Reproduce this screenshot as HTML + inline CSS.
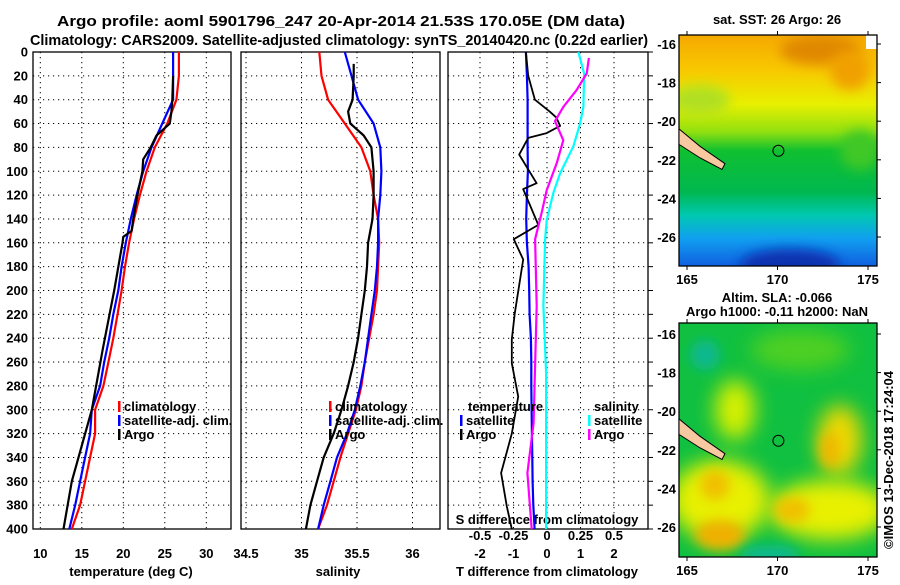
<!DOCTYPE html>
<html><head><meta charset="utf-8"><style>
body{margin:0;background:#fff;width:900px;height:580px;overflow:hidden}
svg text{font-family:"Liberation Sans",sans-serif;font-weight:bold}
</style></head><body>
<svg id="fig" width="900" height="580" xmlns="http://www.w3.org/2000/svg">
<defs>
<linearGradient id="sstg" x1="0" y1="0" x2="0" y2="1">
<stop offset="0" stop-color="#f5a800"/><stop offset="0.15" stop-color="#f8c800"/><stop offset="0.3" stop-color="#e8f000"/>
<stop offset="0.42" stop-color="#90e010"/><stop offset="0.5" stop-color="#10c030"/><stop offset="0.68" stop-color="#00b850"/>
<stop offset="0.78" stop-color="#00c8b0"/><stop offset="0.88" stop-color="#10a0f0"/><stop offset="1" stop-color="#1060e0"/>
</linearGradient>
<filter id="blur6" x="-100%" y="-100%" width="300%" height="300%"><feGaussianBlur stdDeviation="6"/></filter>
<filter id="blur10" x="-100%" y="-100%" width="300%" height="300%"><feGaussianBlur stdDeviation="10"/></filter>
<clipPath id="c1"><rect x="679" y="35" width="198" height="231"/></clipPath>
<clipPath id="c2"><rect x="679" y="323" width="198" height="234"/></clipPath>
</defs>
<text x="57" y="26" font-size="15" textLength="568" lengthAdjust="spacingAndGlyphs">Argo profile: aoml 5901796_247 20-Apr-2014 21.53S 170.05E (DM data)</text>
<text x="30" y="45" font-size="15" textLength="618" lengthAdjust="spacingAndGlyphs">Climatology: CARS2009. Satellite-adjusted climatology: synTS_20140420.nc (0.22d earlier)</text>
<g id="maps">
<g clip-path="url(#c1)">
<rect x="679" y="35" width="198" height="231" fill="url(#sstg)"/>
<ellipse cx="820" cy="50" rx="40" ry="15" fill="#e08800" filter="url(#blur6)"/>
<ellipse cx="700" cy="100" rx="30" ry="15" fill="#b0e020" filter="url(#blur6)"/>
<ellipse cx="850" cy="70" rx="20" ry="20" fill="#f0a000" filter="url(#blur6)"/>
<ellipse cx="790" cy="265" rx="50" ry="16" fill="#0830b0" filter="url(#blur6)"/>
<ellipse cx="860" cy="150" rx="20" ry="20" fill="#40c828" filter="url(#blur6)"/>
<rect x="866" y="35" width="13" height="14" fill="#fff"/>
</g>
<g clip-path="url(#c2)">
<rect x="679" y="323" width="198" height="234" fill="#10c040"/>
<ellipse cx="800" cy="350" rx="50" ry="20" fill="#50d020" filter="url(#blur10)"/>
<ellipse cx="705" cy="355" rx="15" ry="15" fill="#10b890" filter="url(#blur6)"/>
<ellipse cx="735" cy="410" rx="20" ry="30" fill="#d8f000" filter="url(#blur10)"/>
<ellipse cx="840" cy="440" rx="22" ry="35" fill="#f0d800" filter="url(#blur10)"/>
<ellipse cx="720" cy="500" rx="50" ry="40" fill="#e8f000" filter="url(#blur10)"/>
<ellipse cx="830" cy="510" rx="60" ry="30" fill="#e8f000" filter="url(#blur10)"/>
<ellipse cx="715" cy="485" rx="15" ry="15" fill="#f0c000" filter="url(#blur6)"/>
<ellipse cx="720" cy="535" rx="25" ry="15" fill="#f0b000" filter="url(#blur6)"/>
<ellipse cx="792" cy="510" rx="18" ry="13" fill="#f0c000" filter="url(#blur6)"/>
<ellipse cx="830" cy="450" rx="10" ry="18" fill="#f0b800" filter="url(#blur6)"/>
<ellipse cx="770" cy="555" rx="30" ry="10" fill="#10b890" filter="url(#blur6)"/>
</g>
</g>
<g id="plots"></g>
</svg>
<script>
const NS="http://www.w3.org/2000/svg";
// ---- data ----
const tDepth=[0,20,40,60,80,100,120,140,160,180,200,220,240,260,280,300,320,340,360,380,400];
const tempClim=[26.7,26.7,26.4,25.3,23.8,22.8,22.0,21.3,20.7,20.2,19.8,19.3,18.8,18.2,17.6,16.6,16.6,16.0,15.4,14.8,13.8];
const tempSat=[26.0,26.0,26.0,24.7,23.4,22.4,21.6,20.9,20.3,19.8,19.4,18.8,18.3,17.7,17.2,16.2,16.0,15.4,14.8,14.2,13.5];
const argoTDepth=[20,40,50,60,70,80,90,100,120,140,150,155,160,200,250,300,340,360,400];
const tempArgo=[26.0,25.9,25.8,25.6,24.0,23.3,22.4,22.3,21.7,21.2,21.0,20.0,19.9,18.9,17.5,16.2,14.6,13.8,12.8];
const salClim=[35.16,35.18,35.24,35.39,35.54,35.62,35.65,35.69,35.70,35.69,35.68,35.65,35.61,35.57,35.54,35.49,35.42,35.35,35.29,35.23,35.15];
const salSat=[35.39,35.45,35.51,35.65,35.71,35.72,35.71,35.69,35.69,35.68,35.66,35.63,35.60,35.57,35.53,35.48,35.41,35.32,35.26,35.20,35.15];
const argoSDepth=[10,20,40,50,60,70,80,100,120,140,160,180,200,220,240,260,280,300,320,340,360,380,400];
const salArgo=[35.47,35.47,35.46,35.42,35.44,35.56,35.63,35.65,35.65,35.64,35.60,35.59,35.57,35.54,35.51,35.47,35.42,35.36,35.29,35.20,35.14,35.08,35.04];
const tDiffSat=[-0.63,-0.6,-0.58,-0.58,-0.58,-0.57,-0.6,-0.62,-0.6,-0.55,-0.53,-0.52,-0.48,-0.47,-0.47,-0.46,-0.45,-0.44,-0.43,-0.41,-0.37];
const tDiffArgoDepth=[0,20,40,50,55,62,68,72,86,110,115,145,157,174,219,241,261,289,320,353,381,400];
const tDiffArgo=[-0.63,-0.56,-0.36,0.08,0.28,0.39,-0.01,-0.56,-0.83,-0.31,-0.71,-0.26,-0.99,-0.71,-0.96,-1.05,-1.05,-0.86,-1.05,-1.37,-1.2,-1.05];
const sDiffSatDepth=[0,18,46,60,79,102,118,141,157,213,269,400];
const sDiffSat=[0.234,0.277,0.272,0.247,0.197,0.097,0.048,-0.002,-0.014,-0.027,-0.007,-0.007];
const sDiffArgoDepth=[5,18,32,46,58,74,93,116,135,157,213,269,311,353,400];
const sDiffArgo=[0.313,0.296,0.22,0.122,0.06,0.122,0.073,-0.002,-0.04,-0.089,-0.077,-0.09,-0.1,-0.146,-0.114];
const depthTicks=[0,20,40,60,80,100,120,140,160,180,200,220,240,260,280,300,320,340,360,380,400];
const tempTicks=[10,15,20,25,30];
const salTicks=[34.5,35,35.5,36];
const tdTicks=[-2,-1,0,1,2];
const sdTicks=[-0.5,-0.25,0,0.25,0.5];
const sdTickLabels=["-0.5","-0.25","0","0.25","0.5"];
// ---- axes ----
const Y0=52,Y1=529;
const yD=d=>Y0+d*(Y1-Y0)/400;
const xT=t=>40.3+(t-10)*8.3;
const xS=s=>301.5+(s-35)*111;
const xTD=t=>547+t*33.5;
const xSD=s=>547+s*134;
const FS=13;
const g=document.getElementById('plots');
function el(tag,attrs){const e=document.createElementNS(NS,tag);for(const k in attrs)e.setAttribute(k,attrs[k]);g.appendChild(e);return e;}
function txt(x,y,s,size,anchor,fill){const e=el('text',{x:x,y:y,'font-size':size,'text-anchor':anchor||'start',fill:fill||'#000'});e.textContent=s;return e;}
function panel(x0,x1,name){
  const r=el('rect',{x:x0,y:Y0,width:x1-x0,height:Y1-Y0,fill:'none',stroke:'#000','stroke-width':1.3});
  
  
  depthTicks.forEach(d=>{
    if(d>0&&d<400){const l=el('line',{x1:x0,x2:x1,y1:yD(d),y2:yD(d),stroke:'#000','stroke-dasharray':'1.2 3.8','stroke-width':1});
    
    }
  });
}
function vgrid(x,name){const l=el('line',{x1:x,x2:x,y1:Y0,y2:Y1,stroke:'#000','stroke-dasharray':'1.2 3.8'});
  
  }
function line(xs,ds,fx,color,name,w){
  const pts=xs.map((v,i)=>fx(v).toFixed(1)+','+yD(ds[i]).toFixed(1)).join(' ');
  const p=el('polyline',{points:pts,fill:'none',stroke:color,'stroke-width':w||2.2,'stroke-linejoin':'round'});
  
  
}
function legend(x,y,color,label,name){
  const b=el('rect',{x:x,y:y-10,width:2.5,height:11,fill:color});
  
  
  const t=txt(x+6,y,label,FS);
  
  
}
// panel 1
panel(33,231,'temperature-panel');
tempTicks.forEach(t=>{vgrid(xT(t),'temp-vgrid');const l=txt(xT(t),558,String(t),FS,'middle');
  });
depthTicks.forEach(d=>{const l=txt(28,yD(d)+4.5,String(d),FS,'end');
  });
let a=txt(131,576,'temperature (deg C)',FS,'middle');
line(tempClim,tDepth,xT,'#f00','temp-climatology-line');
line(tempSat,tDepth,xT,'#00f','temp-satellite-line');
line(tempArgo,argoTDepth,xT,'#000','temp-argo-line');
legend(118,411,'#f00','climatology','legend-climatology');
legend(118,425,'#00f','satellite-adj. clim.','legend-satellite-adj');
legend(118,439,'#000','Argo','legend-argo');
// panel 2
panel(241,440,'salinity-panel');
salTicks.forEach(s=>{vgrid(xS(s),'sal-vgrid');const l=txt(xS(s),558,String(s),FS,'middle');
  });
a=txt(338,576,'salinity',FS,'middle');
line(salClim,tDepth,xS,'#f00','sal-climatology-line');
line(salSat,tDepth,xS,'#00f','sal-satellite-line');
line(salArgo,argoSDepth,xS,'#000','sal-argo-line');
legend(329,411,'#f00','climatology','legend2-climatology');
legend(329,425,'#00f','satellite-adj. clim.','legend2-satellite-adj');
legend(329,439,'#000','Argo','legend2-argo');
// panel 3
panel(448,648,'difference-panel');
tdTicks.forEach(t=>{vgrid(xTD(t),'td-vgrid');const l=txt(xTD(t),558,String(t),FS,'middle');
  });
sdTicks.forEach((s,i)=>{const l=txt(xSD(s),540,sdTickLabels[i],FS,'middle');
  });
depthTicks.forEach(d=>{const l=el('line',{x1:648,x2:653,y1:yD(d),y2:yD(d),stroke:'#000'});
  });
a=txt(547,576,'T difference from climatology',FS,'middle');
a=txt(547,524,'S difference from climatology',FS,'middle');
line(tDiffSat,tDepth,xTD,'#00f','tdiff-satellite-line');
line(tDiffArgo,tDiffArgoDepth,xTD,'#000','tdiff-argo-line',1.8);
line(sDiffSat,sDiffSatDepth,xSD,'#0ff','sdiff-satellite-line');
line(sDiffArgo,sDiffArgoDepth,xSD,'#f0f','sdiff-argo-line');
a=txt(468,411,'temperature',FS);
legend(460,425,'#00f','satellite','legend3-temp-satellite');
legend(460,439,'#000','Argo','legend3-temp-argo');
a=txt(594,411,'salinity',FS);
legend(588,425,'#0ff','satellite','legend3-sal-satellite');
legend(588,439,'#f0f','Argo','legend3-sal-argo');
// maps
const lonTicks=[165,170,175];
const latTicks=[-16,-18,-20,-22,-24,-26];
const xLon=l=>687+(l-165)*18.1;
function mapAxes(y0,y1,latY,name){
  const r=el('rect',{x:679,y:y0,width:198,height:y1-y0,fill:'none',stroke:'#000','stroke-width':1.3});
  
  lonTicks.forEach(l=>{const t=txt(xLon(l),y1+18,String(l),FS,'middle');
    
    el('line',{x1:xLon(l),x2:xLon(l),y1:y0-4,y2:y0,stroke:'#000'});el('line',{x1:xLon(l),x2:xLon(l),y1:y1,y2:y1+4,stroke:'#000'});});
  latTicks.forEach(l=>{const y=latY(l);const t=txt(676,y+5,String(l),FS,'end');
    
    el('line',{x1:877,x2:881,y1:y,y2:y,stroke:'#000'});});
  const isl=el('polygon',{points:`679,${latY(-20.4)} 700,${latY(-21.3)} 725,${latY(-22.2)} 722,${latY(-22.5)} 700,${latY(-21.9)} 679,${latY(-21.2)}`,fill:'#f8c8a0',stroke:'#000'});
  
  const c=el('circle',{cx:xLon(170.05),cy:latY(-21.53),r:5.5,fill:'none',stroke:'#000'});
  
}
const latY1=l=>44+(-16-l)*19.3;
const latY2=l=>334+(-16-l)*19.3;
mapAxes(35,266,latY1,'sst-map');
mapAxes(323,557,latY2,'sla-map');
a=txt(777,24,'sat. SST: 26 Argo: 26',FS,'middle');
a=txt(777,302,'Altim. SLA: -0.066',FS,'middle');
a=txt(777,316,'Argo h1000: -0.11 h2000: NaN',FS,'middle');
a=txt(0,0,'©IMOS 13-Dec-2018 17:24:04',13,'middle');a.setAttribute('transform','translate(893,460) rotate(-90)');a.setAttribute('font-weight','normal');

</script>
</body></html>
